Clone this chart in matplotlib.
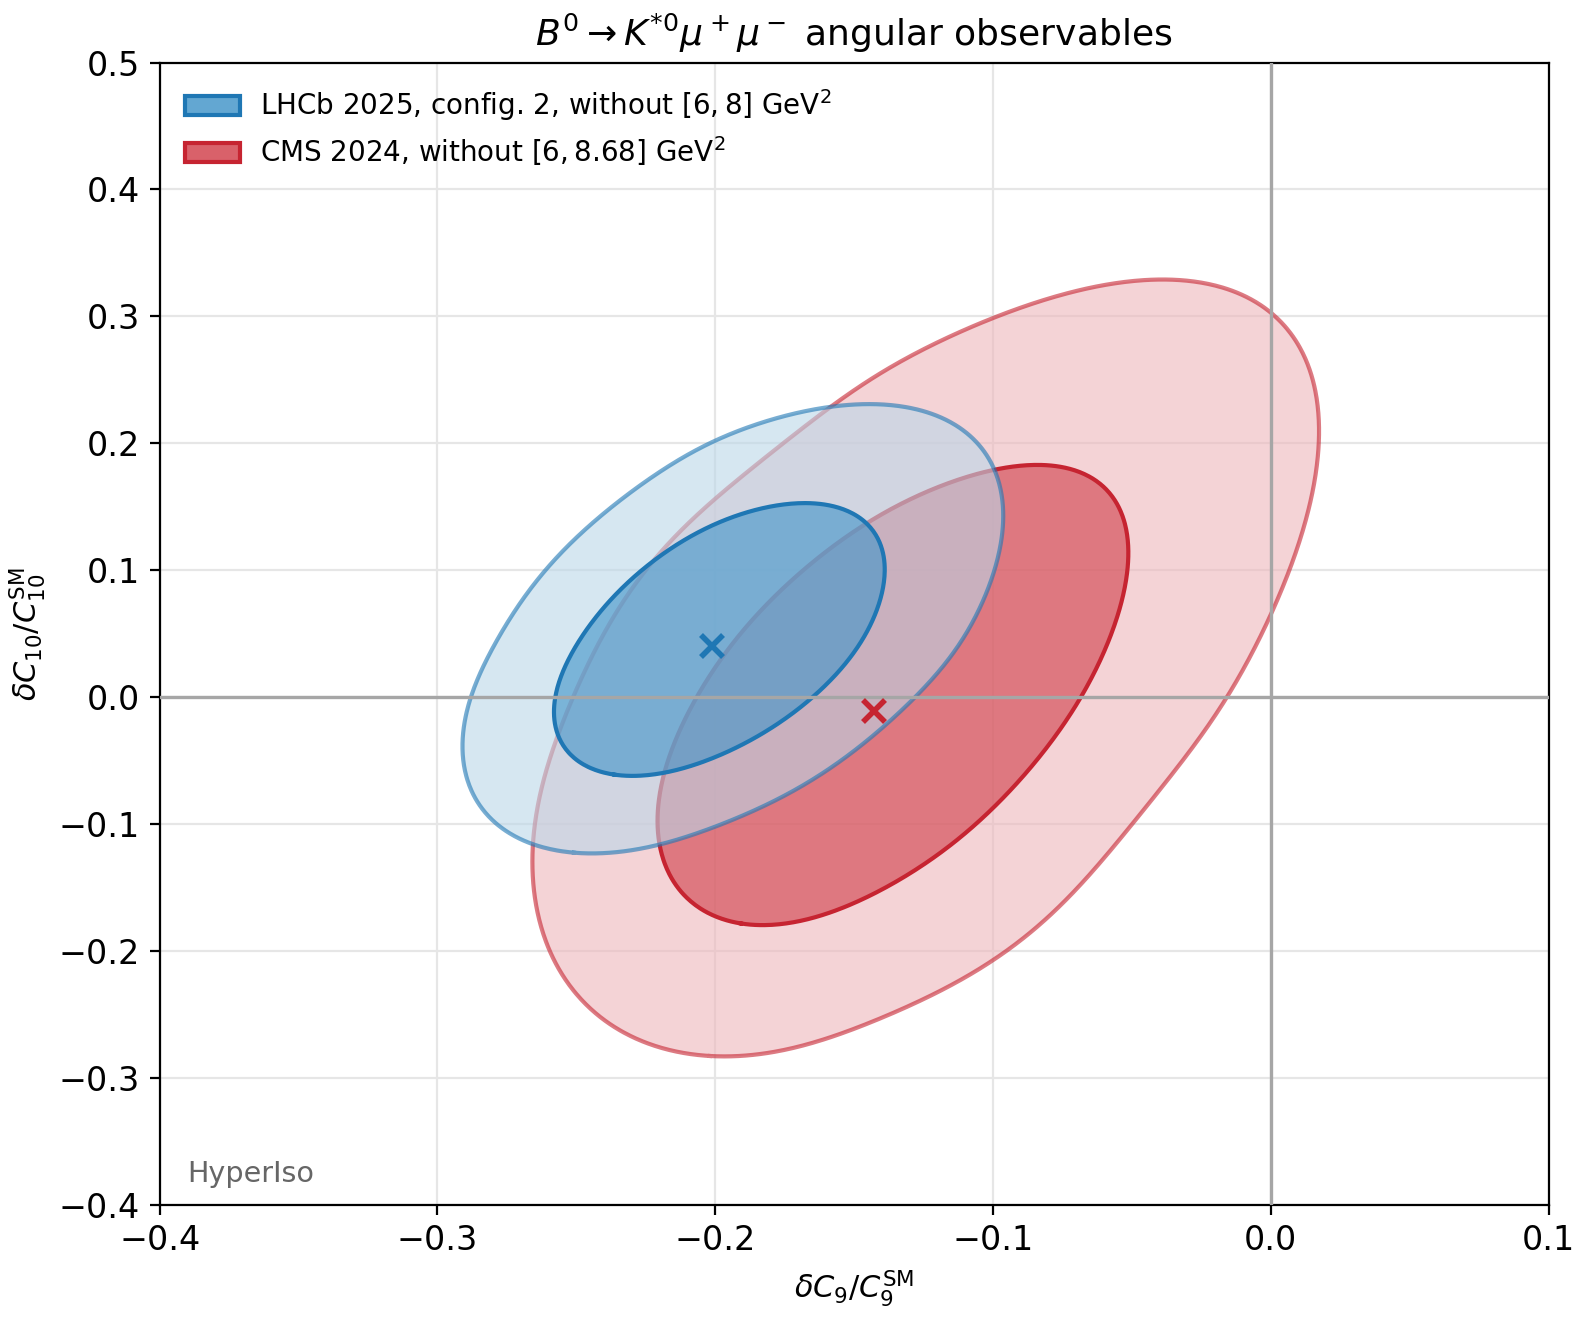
import numpy as np
import matplotlib.pyplot as plt
import contourpy
from matplotlib.patches import Patch, PathPatch
from matplotlib.path import Path

# best-fit points
lhcb_best = (-0.201, 0.040)
cms_best = (-0.143, -0.011)

# each CL region: sigma x (down, up), sigma y (down, up), correlation (lower-left, upper-right)
lhcb_68 = [(0.0376, 0.0409), (0.0672, 0.0745), (0.50, 0.54)]
lhcb_95 = [(0.0362, 0.0421), (0.0656, 0.0768), (0.48, 0.54)]
cms_68 = [(0.0512, 0.0605), (0.1110, 0.1280), (0.50, 0.65)]
cms_95 = [(0.0494, 0.0645), (0.1094, 0.1368), (0.43, 0.65)]

# delta chi2 for 68% / 95% CL with 2 dof
dchi2_68 = 2.30
dchi2_95 = 6.18

labels = [r"LHCb 2025, config. 2, without $[6, 8]$ GeV$^2$",
          r"CMS 2024, without $[6, 8.68]$ GeV$^2$"]
xticks = [-0.4, -0.3, -0.2, -0.1, 0.0, 0.1]
yticks = [-0.4, -0.3, -0.2, -0.1, 0.0, 0.1, 0.2, 0.3, 0.4, 0.5]

# line colour, 68% fill, 95% fill
blue = ('#1f77b4', '#63a7d2', '#bbd7e9')
red = ('#c62431', '#d9616a', '#eeb6bc')

x = np.linspace(-0.45, 0.15, 700)
y = np.linspace(-0.45, 0.55, 700)
X, Y = np.meshgrid(x, y)


def smooth_side(d, s):
    # width goes smoothly from s[0] (d<0) to s[1] (d>0)
    w = 0.6 * (s[0] + s[1]) / 2
    t = 0.5 * (1 + np.tanh(d / w))
    return s[0] + (s[1] - s[0]) * t


def chi2(best, region):
    sx, sy, rho = region
    dx = X - best[0]
    dy = Y - best[1]
    u = dx / smooth_side(dx, sx)
    v = dy / smooth_side(dy, sy)
    t = 0.5 * (1 + np.tanh((u + v) / 1.5))
    r = rho[0] + (rho[1] - rho[0]) * t
    return (u**2 - 2*r*u*v + v**2) / (1 - r**2)


def contour_xy(q, level, ccw):
    lines = contourpy.contour_generator(x, y, q).lines(level)
    xy = max(lines, key=len)
    area = 0.5 * np.sum(xy[:, 0] * np.roll(xy[:, 1], -1) - np.roll(xy[:, 0], -1) * xy[:, 1])
    if (area > 0) != ccw:
        xy = xy[::-1]
    return xy


def draw_fit(ax, best, r68, r95, cols, z):
    line, inner, outer = cols
    xy68 = contour_xy(chi2(best, r68), dchi2_68, ccw=False)
    xy95 = contour_xy(chi2(best, r95), dchi2_95, ccw=True)
    ring = Path.make_compound_path(Path(xy95, closed=True), Path(xy68, closed=True))
    ax.add_patch(PathPatch(ring, fc=outer, alpha=0.6, lw=0, zorder=z))
    ax.add_patch(PathPatch(Path(xy68, closed=True), fc=inner, alpha=0.85, lw=0, zorder=z))
    ax.plot(xy95[:, 0], xy95[:, 1], color=line, lw=1.5, alpha=0.6, zorder=z + 0.1)
    ax.plot(xy68[:, 0], xy68[:, 1], color=line, lw=1.5, zorder=z + 0.1)
    ax.plot(*best, marker='x', color=line, markersize=8, mew=2, ls='none', zorder=10)


fig = plt.figure(figsize=(7.92, 6.6), dpi=200)
ax = fig.add_axes([0.1008, 0.0872, 0.8769, 0.8654])

draw_fit(ax, cms_best, cms_68, cms_95, red, 2)
draw_fit(ax, lhcb_best, lhcb_68, lhcb_95, blue, 3)

ax.axhline(0, color='#a6a6a6', lw=1.2, zorder=5)
ax.axvline(0, color='#a6a6a6', lw=1.2, zorder=5)

ax.set_xlim(-0.4, 0.1)
ax.set_ylim(-0.4, 0.5)
ax.set_xticks(xticks)
ax.set_yticks(yticks)
ax.tick_params(labelsize=12)
ax.grid(True, color='#e6e6e6', lw=0.8)
ax.set_axisbelow(True)

ax.set_xlabel(r"$\delta C_9/C_9^{\rm SM}$", fontsize=11)
ax.set_ylabel(r"$\delta C_{10}/C_{10}^{\rm SM}$", fontsize=11)
ax.set_title(r"$B^0 \to K^{*0}\mu^+\mu^-$ angular observables", fontsize=13)

handles = [Patch(facecolor=c[1], edgecolor=c[0], lw=1.5) for c in (blue, red)]
ax.legend(handles, labels, loc='upper left', frameon=False, fontsize=10,
          labelspacing=0.4, handletextpad=0.7)

ax.text(0.02, 0.02, "HyperIso", transform=ax.transAxes, color='#666666', fontsize=10.3)

fig.savefig('out.png', dpi=200)
